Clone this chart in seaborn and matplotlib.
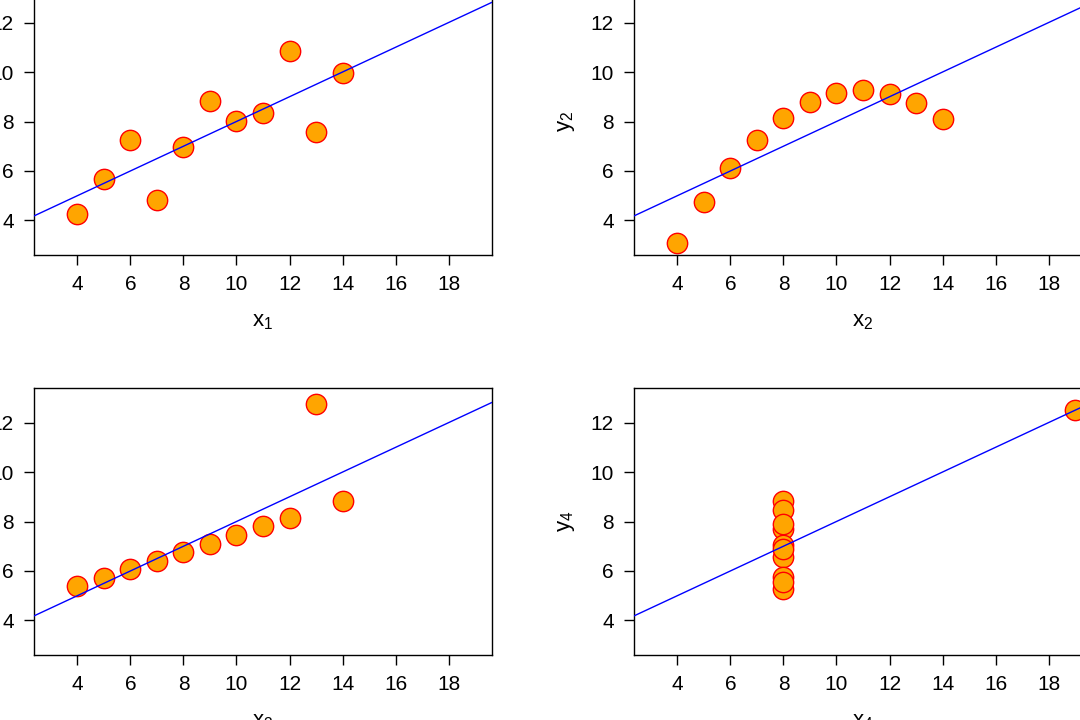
import numpy as np
import pandas as pd
import matplotlib
matplotlib.use("Agg")
import matplotlib.pyplot as plt
import seaborn as sns

# Anscombe's quartet
x123 = [10, 8, 13, 9, 11, 14, 6, 4, 12, 7, 5]
y1 = [8.04, 6.95, 7.58, 8.81, 8.33, 9.96, 7.24, 4.26, 10.84, 4.82, 5.68]
y2 = [9.14, 8.14, 8.74, 8.77, 9.26, 8.10, 6.13, 3.10, 9.13, 7.26, 4.74]
y3 = [7.46, 6.77, 12.74, 7.11, 7.81, 8.84, 6.08, 5.39, 8.15, 6.42, 5.73]
x4 = [8, 8, 8, 8, 8, 8, 8, 19, 8, 8, 8]
y4 = [6.58, 5.76, 7.71, 8.84, 8.47, 7.04, 5.25, 12.50, 5.56, 7.91, 6.89]

xticks = [4, 6, 8, 10, 12, 14, 16, 18]
yticks = [4, 6, 8, 10, 12]

sets = [(x123, y1, 1), (x123, y2, 2), (x123, y3, 3), (x4, y4, 4)]

sns.set_style("white", rc={'text.color': 'black', 'axes.labelcolor': 'black',
                           'xtick.color': 'black', 'ytick.color': 'black',
                           'axes.edgecolor': 'black'})
plt.rcParams['font.family'] = ['Liberation Sans', 'DejaVu Sans']
plt.rcParams['mathtext.fontset'] = 'custom'
plt.rcParams['mathtext.rm'] = 'Liberation Sans'
plt.rcParams['mathtext.it'] = 'Liberation Sans'

fig = plt.figure(figsize=(10.8, 7.2), dpi=100)

# axes placed so the picture is a crop of a larger 2x2 layout
lefts = [34 / 1080, 634 / 1080]
bottoms = [465 / 720, 65 / 720]
w = 458 / 1080
h = 267 / 720

for i, (xs, ys, n) in enumerate(sets):
    ax = fig.add_axes([lefts[i % 2], bottoms[i // 2], w, h])
    df = pd.DataFrame({'x': xs, 'y': ys})
    ax.set_xlim(2.36, 19.64)
    ax.set_ylim(2.6, 13.4)
    sns.scatterplot(data=df, x='x', y='y', ax=ax, s=215, color='orange',
                    edgecolor='red', linewidth=1, zorder=2)
    sns.regplot(data=df, x='x', y='y', ax=ax, scatter=False, ci=None,
                truncate=False, line_kws={'color': 'blue', 'lw': 1, 'zorder': 3})
    ax.set_xlim(2.36, 19.64)
    ax.set_ylim(2.6, 13.4)
    ax.set_xticks(xticks)
    ax.set_yticks(yticks)
    ax.tick_params(direction='out', length=7, width=1, pad=7.5,
                   labelsize=15, color='black', labelcolor='black',
                   left=True, bottom=True)
    for sp in ax.spines.values():
        sp.set_color('black')
        sp.set_linewidth(1)
    ax.set_xlabel(r'$\mathregular{x_%d}$' % n, fontsize=16, labelpad=12, color='black')
    ax.set_ylabel(r'$\mathregular{y_%d}$' % n, fontsize=16, labelpad=10, color='black')

fig.savefig('out.png', dpi=100)
